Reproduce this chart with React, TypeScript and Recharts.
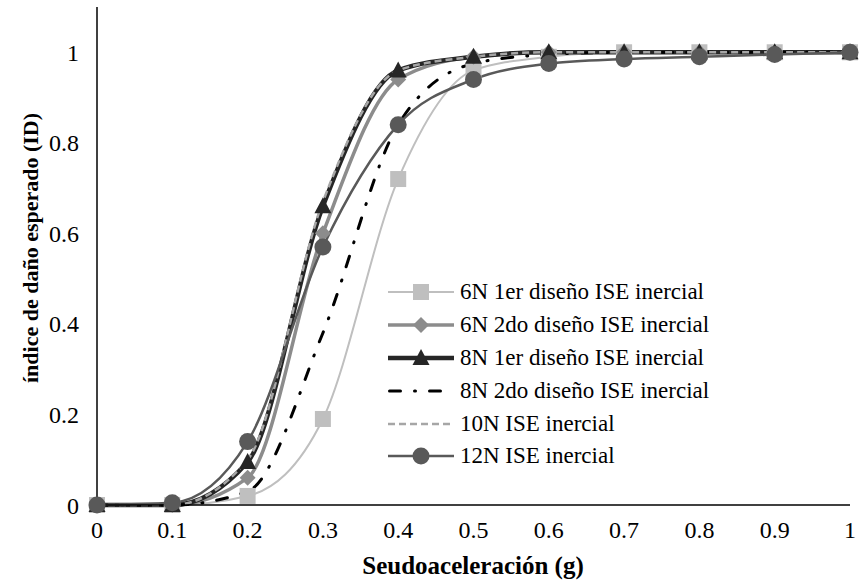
import React from 'react';
import { LineChart, Line, XAxis, YAxis, Legend } from 'recharts';

// Seudoaceleración (g)
const xValues = [0, 0.1, 0.2, 0.3, 0.4, 0.5, 0.6, 0.7, 0.8, 0.9, 1];
const yTicks = [0, 0.2, 0.4, 0.6, 0.8, 1];

// índice de daño esperado (ID)
const serie6N1 = [0, 0, 0.02, 0.19, 0.72, 0.96, 0.99, 1, 1, 1, 1];
const serie6N2 = [0, 0, 0.06, 0.6, 0.94, 0.99, 1, 1, 1, 1, 1];
const serie8N1 = [0, 0, 0.095, 0.66, 0.96, 0.99, 1, 1, 1, 1, 1];
const serie8N2 = [0, 0, 0.03, 0.38, 0.84, 0.975, 0.995, 1, 1, 1, 1];
const serie10N = [0, 0, 0.1, 0.67, 0.96, 0.99, 1, 1, 1, 1, 1];
const serie12N = [0, 0.005, 0.14, 0.57, 0.84, 0.94, 0.975, 0.985, 0.99, 0.995, 1];

const FONT = "'Liberation Serif', 'Times New Roman', serif";

type MarkerShape = 'square' | 'diamond' | 'triangle' | 'circle' | 'none';

const series = [
  { key: 's6N1', name: '6N 1er diseño ISE inercial', values: serie6N1, color: '#BFBFBF', width: 2, dash: undefined, marker: 'square' as MarkerShape },
  { key: 's6N2', name: '6N 2do diseño ISE inercial', values: serie6N2, color: '#8C8C8C', width: 3.5, dash: undefined, marker: 'diamond' as MarkerShape },
  { key: 's8N1', name: '8N 1er diseño ISE inercial', values: serie8N1, color: '#262626', width: 4.5, dash: undefined, marker: 'triangle' as MarkerShape },
  { key: 's8N2', name: '8N 2do diseño ISE inercial', values: serie8N2, color: '#000000', width: 3, dash: '11 14 1 14', marker: 'none' as MarkerShape },
  { key: 's10N', name: '10N ISE inercial', values: serie10N, color: '#A6A6A6', width: 2.5, dash: '7 4', marker: 'none' as MarkerShape },
  { key: 's12N', name: '12N ISE inercial', values: serie12N, color: '#595959', width: 2.5, dash: undefined, marker: 'circle' as MarkerShape },
];

const data = xValues.map((x, i) => {
  const row: Record<string, number> = { x };
  series.forEach((s) => {
    row[s.key] = s.values[i];
  });
  return row;
});

const Marker = ({ shape, cx, cy, color }: { shape: MarkerShape; cx?: number; cy?: number; color: string }) => {
  if (cx == null || cy == null || shape === 'none') return null;
  if (shape === 'square') return <rect x={cx - 8} y={cy - 8} width={16} height={16} fill={color} />;
  if (shape === 'diamond')
    return <polygon points={`${cx},${cy - 8} ${cx + 8},${cy} ${cx},${cy + 8} ${cx - 8},${cy}`} fill={color} />;
  if (shape === 'triangle')
    return <polygon points={`${cx},${cy - 9} ${cx + 8.5},${cy + 7} ${cx - 8.5},${cy + 7}`} fill={color} />;
  return <circle cx={cx} cy={cy} r={8.5} fill={color} />;
};

const LegendBox = () => (
  <div style={{ fontFamily: FONT, fontSize: 23, color: '#000' }}>
    {series.map((s) => (
      <div key={s.key} style={{ display: 'flex', alignItems: 'center', height: 32.8 }}>
        <svg width={70} height={24} style={{ marginRight: 6 }}>
          <line
            x1={s.key === 's8N2' ? 5.5 : 4}
            y1={12}
            x2={70}
            y2={12}
            stroke={s.color}
            strokeWidth={s.width}
            strokeDasharray={s.dash}
            strokeLinecap={s.key === 's8N2' ? 'round' : 'butt'}
          />
          <Marker shape={s.marker} cx={37} cy={12} color={s.color} />
        </svg>
        <span style={{ whiteSpace: 'nowrap' }}>{s.name}</span>
      </div>
    ))}
  </div>
);

const YTitle = () => (
  <text
    x={30}
    y={248}
    transform="rotate(-90 30 248)"
    textAnchor="middle"
    dominantBaseline="central"
    fontFamily={FONT}
    fontSize={22}
    fontWeight="bold"
    fill="#000"
  >
    índice de daño esperado (ID)
  </text>
);

const XTitle = () => (
  <text x={473} y={565} textAnchor="middle" dominantBaseline="central" fontFamily={FONT} fontSize={25} fontWeight="bold" fill="#000">
    Seudoaceleración (g)
  </text>
);

export default function App() {
  return (
    <div style={{ position: 'absolute', left: 0, top: 0, width: 859, height: 581, background: '#fff' }}>
      <LineChart width={859} height={581} data={data} margin={{ top: 7, right: 9, bottom: 46, left: 0 }}>
        <XAxis
          dataKey="x"
          type="number"
          domain={[0, 1]}
          ticks={xValues}
          tickFormatter={(v: number) => String(v)}
          tickLine={false}
          tickMargin={10}
          axisLine={{ stroke: '#000', strokeWidth: 1.5 }}
          tick={{ fill: '#000', fontFamily: FONT, fontSize: 24 }}
          label={<XTitle />}
        />
        <YAxis
          type="number"
          domain={[0, 1.1]}
          ticks={yTicks}
          width={97}
          tickLine={false}
          tickMargin={12}
          axisLine={{ stroke: '#000', strokeWidth: 1.5 }}
          tick={{ fill: '#000', fontFamily: FONT, fontSize: 24 }}
          label={<YTitle />}
        />
        <Legend
          layout="vertical"
          align="center"
          verticalAlign="middle"
          content={() => <LegendBox />}
          wrapperStyle={{ left: 384, top: 276, width: 360 }}
        />
        {series.map((s) => (
          <Line
            key={s.key}
            dataKey={s.key}
            name={s.name}
            type="monotone"
            stroke={s.color}
            strokeWidth={s.width}
            strokeDasharray={s.dash}
            strokeLinecap={s.key === 's8N2' ? 'round' : 'butt'}
            isAnimationActive={false}
            activeDot={false}
            dot={(p: any) => <Marker key={`${s.key}-${p.index}`} shape={s.marker} cx={p.cx} cy={p.cy} color={s.color} />}
          />
        ))}
      </LineChart>
    </div>
  );
}
